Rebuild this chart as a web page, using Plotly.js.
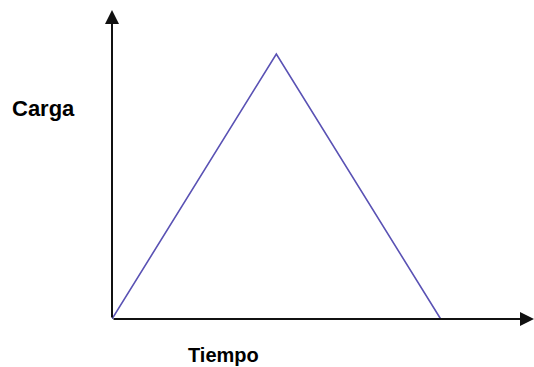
<!DOCTYPE html>
<html>
<head>
<meta charset="utf-8">
<script src="https://cdn.plot.ly/plotly-3.0.1.min.js"></script>
<style>
  html, body { margin: 0; padding: 0; background: #fff; }
  #chart { width: 534px; height: 367px; }
</style>
</head>
<body>
<div id="chart"></div>
<script>
// Load profile: rises linearly to a peak, then falls back to zero
var tiempo = [0, 1, 2];
var carga = [0, 1, 0];

var xLabel = 'Tiempo';
var yLabel = 'Carga';

var xMax = 2.568;   // axis extent beyond the last point, room for the arrow
var yMax = 1.166;

var trace = {
  x: tiempo,
  y: carga,
  type: 'scatter',
  mode: 'lines',
  line: { color: '#5a52b4', width: 1.6 },
  hoverinfo: 'none'
};

var axisColor = '#111111';

var layout = {
  width: 534,
  height: 367,
  margin: { l: 112, r: 0, t: 10, b: 48 },
  paper_bgcolor: '#ffffff',
  plot_bgcolor: '#ffffff',
  showlegend: false,
  xaxis: {
    range: [0, xMax],
    showgrid: false, zeroline: false, showline: false,
    showticklabels: false, ticks: '', fixedrange: true
  },
  yaxis: {
    range: [0, yMax],
    showgrid: false, zeroline: false, showline: false,
    showticklabels: false, ticks: '', fixedrange: true
  },
  annotations: [
    // vertical axis with arrowhead
    {
      x: 0, y: yMax, xref: 'x', yref: 'y',
      ax: 0, ay: 0, axref: 'x', ayref: 'y',
      showarrow: true, arrowhead: 2, arrowsize: 1.4, arrowwidth: 2,
      arrowcolor: axisColor, standoff: 0, startstandoff: 0, text: ''
    },
    // horizontal axis with arrowhead
    {
      x: xMax, y: 0, xref: 'x', yref: 'y',
      ax: 0, ay: 0, axref: 'x', ayref: 'y',
      showarrow: true, arrowhead: 2, arrowsize: 1.4, arrowwidth: 2,
      arrowcolor: axisColor, standoff: 0, startstandoff: 0, text: ''
    },
    {
      text: yLabel, xref: 'paper', yref: 'paper',
      x: -0.162, y: 0.68, xanchor: 'center', yanchor: 'middle',
      showarrow: false,
      font: { family: 'Liberation Sans, Arial, sans-serif', size: 22, color: '#000', weight: 'bold' }
    },
    {
      text: xLabel, xref: 'paper', yref: 'paper',
      x: 0.265, y: -0.115, xanchor: 'center', yanchor: 'middle',
      showarrow: false,
      font: { family: 'Liberation Sans, Arial, sans-serif', size: 20, color: '#000', weight: 'bold' }
    }
  ]
};

Plotly.newPlot('chart', [trace], layout, { staticPlot: true, displayModeBar: false });
</script>
</body>
</html>
